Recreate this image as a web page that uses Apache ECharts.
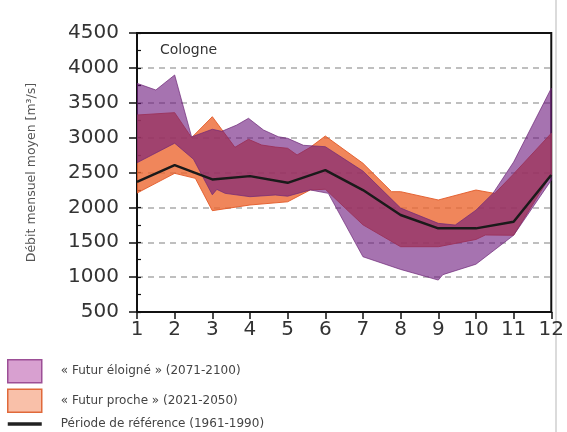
<!DOCTYPE html>
<html><head><meta charset="utf-8">
<script src="https://cdn.jsdelivr.net/npm/echarts@6/dist/echarts.min.js"></script>
<style>html,body{margin:0;padding:0;background:#fff}#c{width:567px;height:432px}</style>
</head><body><div id="c"></div>
<script>
// ---- data ----
const months = [1,2,3,4,5,6,7,8,9,10,11,12];
const xTickLabels = ['1','2','3','4','5','6','7','8','9','10','11','12'];
const yTickLabels = ['500','1000','1500','2000','2500','3000','3500','4000','4500'];
const legendNames = ['« Futur éloigné » (2071-2100)', '« Futur proche » (2021-2050)', 'Période de référence (1961-1990)'];
const stationName = 'Cologne';
const yAxisTitle = 'Débit mensuel moyen [m³/s]';

// reference period monthly mean discharge
const reference = [2367, 2606, 2401, 2448, 2352, 2534, 2248, 1890, 1699, 1699, 1794, 2463];

// far future band (2071-2100) [month, value]
const farUpper = [[1,3778],[1.5,3683],[2,3898],[2.45,3010],[3,3120],[3.25,3090],[3.65,3181],[3.96,3277],[4.36,3109],[4.75,3013],[5,2990],[5.42,2890],[6,2870],[7,2520],[8,1990],[9,1771],[9.45,1747],[10,1960],[10.45,2200],[11,2650],[12,3707]];
const farLower = [[1,2640],[2,2920],[2.5,2690],[3,2180],[3.12,2258],[3.34,2201],[4,2153],[4.67,2177],[5,2160],[5.6,2250],[6.08,2201],[7,1292],[8,1110],[9,958],[9.12,1035],[10,1185],[11,1600],[12,2390]];

// near future band (2021-2050) [month, value]
const nearUpper = [[1,3324],[2,3358],[2.45,3000],[3,3300],[3.6,2861],[3.96,2976],[4.31,2894],[4.67,2865],[5,2847],[5.25,2751],[5.6,2861],[6,3023],[7,2632],[7.76,2225],[8,2225],[9,2106],[10,2249],[10.5,2200],[11,2480],[12,3062]];
const nearLower = [[1,2205],[2,2488],[2.55,2416],[3,1953],[4,2034],[5,2080],[5.6,2250],[6,2260],[7,1750],[8,1436],[9,1436],[10,1540],[10.25,1604],[11,1600],[12,2470]];

// ---- chart ----
function polygonOf(upper, lower) { return upper.concat(lower.slice().reverse()); }
const farPoly = polygonOf(farUpper, farLower);
const nearPoly = polygonOf(nearUpper, nearLower);

function bandSeries(name, poly, fill, stroke, z) {
  return {
    type: 'custom', name: name, data: poly, clip: true, z: z, silent: true,
    encode: { x: 0, y: 1 },
    renderItem: function (params, api) {
      if (params.dataIndex !== 0) return;
      const pts = poly.map(function (p) { return api.coord(p); });
      return { type: 'polygon', shape: { points: pts }, style: { fill: fill, stroke: stroke, lineWidth: 1 } };
    }
  };
}

const chart = echarts.init(document.getElementById('c'), null, { renderer: 'canvas' });
chart.setOption({
  animation: false,
  backgroundColor: '#fff',
  grid: { left: 137, right: 15, top: 33, bottom: 120, show: true, borderColor: '#111', borderWidth: 2, backgroundColor: 'transparent' },
  xAxis: {
    type: 'value', min: 1, max: 12, interval: 1,
    axisLine: { lineStyle: { color: '#111', width: 2 } },
    axisTick: { show: true, length: 7, lineStyle: { color: '#111', width: 1.5 } },
    axisLabel: { margin: 8, fontSize: 20, fontFamily: 'DejaVu Sans', color: '#333',
      formatter: function (v) { return xTickLabels[months.indexOf(v)] || ''; } },
    splitLine: { show: false }
  },
  yAxis: [{
    type: 'value', min: 500, max: 4500, interval: 500,
    name: yAxisTitle, nameLocation: 'middle', nameGap: 99,
    nameTextStyle: { fontFamily: 'DejaVu Sans', fontSize: 12.5, color: '#555' },
    axisLine: { lineStyle: { color: '#111', width: 2 } },
    axisTick: { show: true, length: 8, lineStyle: { color: '#111', width: 1.5 } },
    axisLabel: { margin: 18, fontSize: 20, fontFamily: 'DejaVu Sans', color: '#333',
      formatter: function (v) { return yTickLabels[(v - 500) / 500] || ''; } },
    splitLine: { show: true, showMinLine: false, showMaxLine: false, lineStyle: { color: '#aaa', width: 1.5, type: [6, 5] } }
  }, {
    type: 'value', min: 500, max: 4500, interval: 250, position: 'left', offset: 0,
    axisLine: { show: false },
    axisTick: { show: true, inside: true, length: 4, lineStyle: { color: '#111', width: 1.2 } },
    axisLabel: { show: false }, splitLine: { show: false }
  }],
  legend: {
    orient: 'vertical', left: 7, top: 359, height: 100, padding: 0,
    itemWidth: 34, itemHeight: 23, itemGap: 5,
    selectedMode: false,
    textStyle: { fontFamily: 'DejaVu Sans', fontSize: 12, color: '#444', padding: [0, 0, 0, 14] },
    data: [
      { name: legendNames[0], icon: 'rect', itemStyle: { color: '#D8A0D0', borderColor: '#9C4F96', borderWidth: 1.5 } },
      { name: legendNames[1], icon: 'rect', itemStyle: { color: '#F9C0A9', borderColor: '#E0693A', borderWidth: 1.5 } },
      { name: legendNames[2], icon: 'path://M0,0H30V3H0Z', itemStyle: { color: '#222' } }
    ]
  },
  graphic: [
    { type: 'text', left: 160, top: 43, style: { text: stationName, fontFamily: 'DejaVu Sans', fontSize: 14, fill: '#333' } },
    { type: 'line', shape: { x1: 556, y1: 0, x2: 556, y2: 432 }, style: { stroke: '#cfcfcf', lineWidth: 1.5 } }
  ],
  series: [
    bandSeries(legendNames[1], nearPoly, 'rgba(236,104,50,0.8)', 'rgba(226,90,40,0.9)', 2),
    bandSeries(legendNames[0], farPoly, 'rgba(107,22,123,0.6)', 'rgba(110,40,120,0.7)', 3),
    {
      type: 'line', name: legendNames[2], z: 5,
      data: months.map(function (m, i) { return [m, reference[i]]; }),
      showSymbol: false, symbol: 'none',
      lineStyle: { color: '#1a1a1a', width: 2.5 }, itemStyle: { color: '#1a1a1a' }
    }
  ]
});
</script>
</body></html>
